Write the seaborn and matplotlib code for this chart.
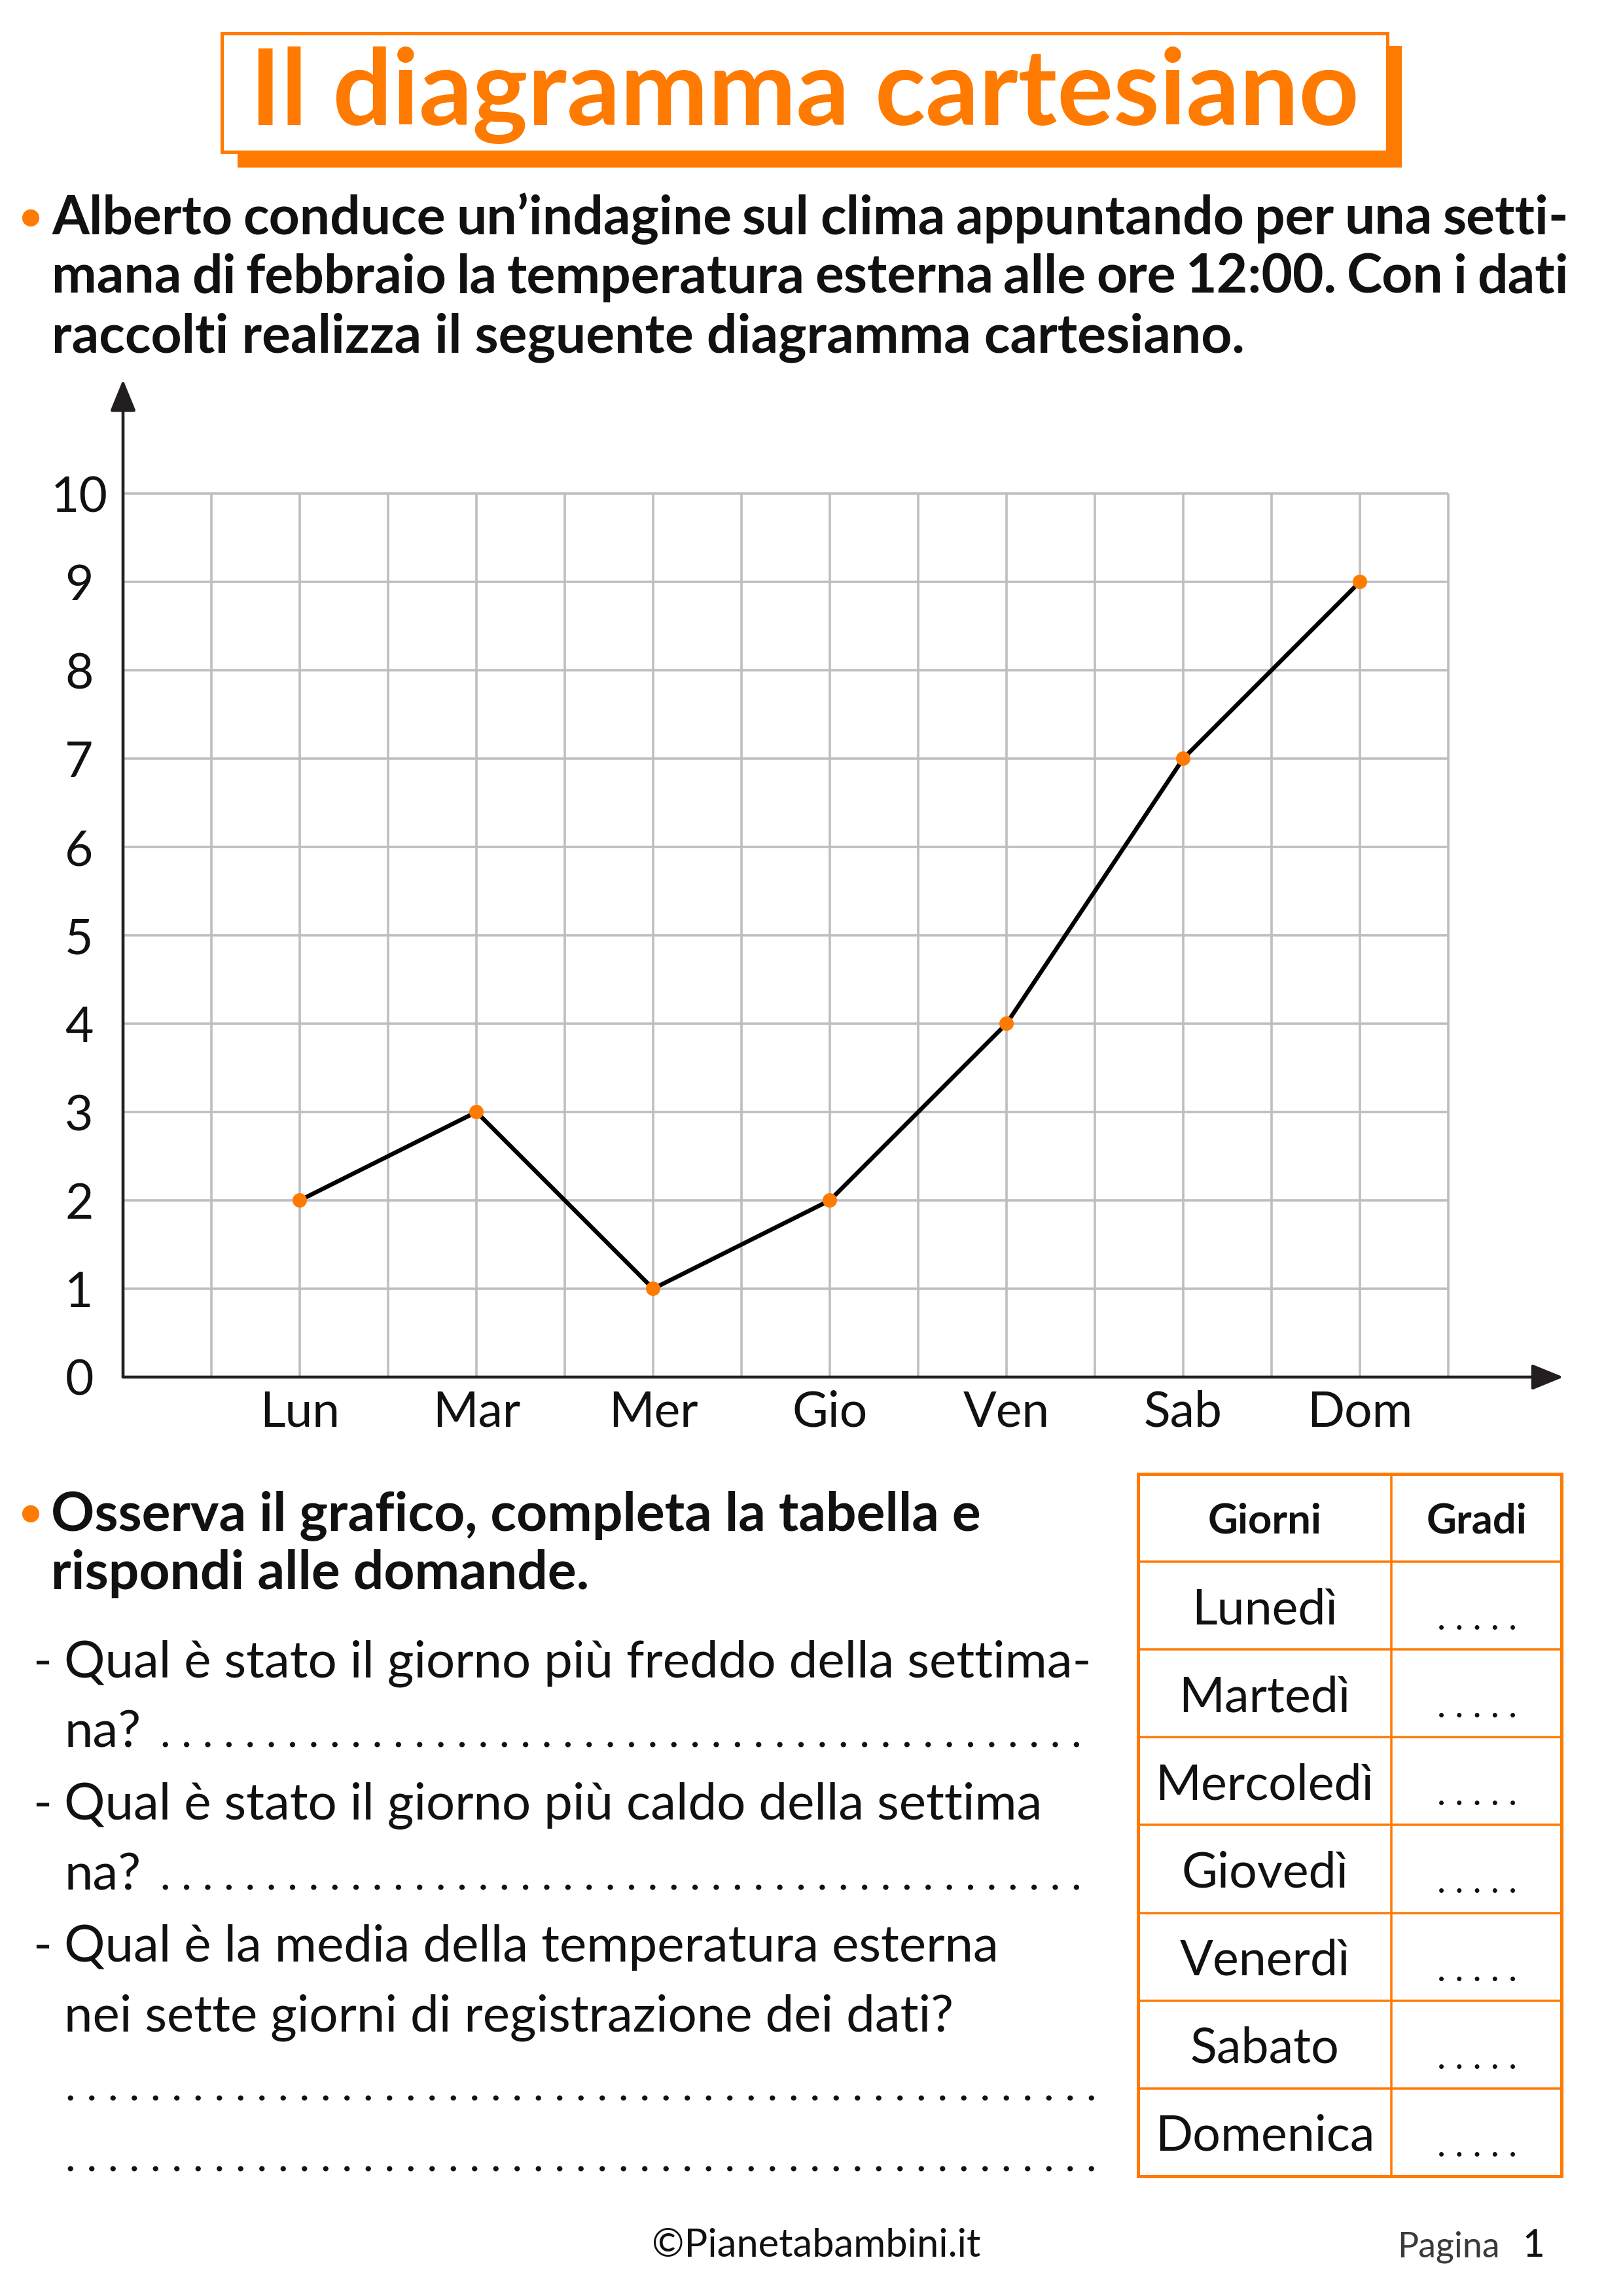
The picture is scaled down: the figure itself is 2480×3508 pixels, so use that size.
import matplotlib
matplotlib.use("Agg")
import matplotlib.pyplot as plt
from matplotlib.patches import Rectangle, Circle
import numpy as np
import pandas as pd
import seaborn as sns

# ------------------------------------------------------------------ data
DAYS = ["Lun", "Mar", "Mer", "Gio", "Ven", "Sab", "Dom"]
TEMPS = [2, 3, 1, 2, 4, 7, 9]
Y_TICKS = [0, 1, 2, 3, 4, 5, 6, 7, 8, 9, 10]

TITLE = "Il diagramma cartesiano"
INTRO_LINES = [
    "Alberto conduce un’indagine sul clima appuntando per una setti-",
    "mana di febbraio la temperatura esterna alle ore 12:00. Con i dati",
    "raccolti realizza il seguente diagramma cartesiano.",
]
TASK_LINES = [
    "Osserva il grafico, completa la tabella e",
    "rispondi alle domande.",
]
QUESTION_LINES = [
    "Qual è stato il giorno più freddo della settima-",
    "na?",
    "Qual è stato il giorno più caldo della settima",
    "na?",
    "Qual è la media della temperatura esterna",
    "nei sette giorni di registrazione dei dati?",
    "",
    "",
]
QUESTION_DASH = [True, False, True, False, True, False, False, False]
TABLE_HEADER = ["Giorni", "Gradi"]
TABLE_DAYS = ["Lunedì", "Martedì", "Mercoledì", "Giovedì", "Venerdì", "Sabato", "Domenica"]
TABLE_BLANK = ". . . . ."
FOOTER_SITE = "©Pianetabambini.it"
FOOTER_PAGE = ["Pagina", "1"]

# ------------------------------------------------------------------ style
ORANGE = "#FF7A00"
GRID = "#BEBEC2"
AXIS = "#231F20"
INK = "#111111"
W, H = 2480, 3508
DPI = 300
PX = 72.0 / DPI  # points per pixel

sns.set_theme(style="white")
plt.rcParams["font.family"] = ["Lato", "DejaVu Sans"]

fig = plt.figure(figsize=(W / DPI, H / DPI), dpi=DPI)
fig.patch.set_facecolor("white")
R = fig.canvas.get_renderer()

pg = fig.add_axes([0, 0, 1, 1])
pg.set_xlim(0, W)
pg.set_ylim(H, 0)
pg.axis("off")


def text_w(s, size, weight="normal"):
    t = pg.text(0, 0, s, fontsize=size, fontweight=weight)
    w = t.get_window_extent(renderer=R).width
    t.remove()
    return w


def fit(s, target, weight="normal", base=20.0):
    return base * target / text_w(s, base, weight)


def put(x, y, s, size, weight="normal", ha="left", color=INK, va="baseline"):
    return pg.text(x, y, s, fontsize=size, fontweight=weight, ha=ha, va=va, color=color)


def justified(s, x0, x1, y, size, weight):
    words = s.split(" ")
    widths = [text_w(w, size, weight) for w in words]
    gap = (x1 - x0 - sum(widths)) / (len(words) - 1)
    x = x0
    for w, wd in zip(words, widths):
        put(x, y, w, size, weight)
        x += wd + gap


# ------------------------------------------------------------------ title
pg.add_patch(Rectangle((363, 70), 2142 - 363, 256 - 70, facecolor=ORANGE, edgecolor="none", zorder=1))
pg.add_patch(Rectangle((339, 51), 2120 - 339, 232 - 51, facecolor="white", edgecolor=ORANGE,
                       lw=5 * PX, zorder=2))
ts = fit(TITLE, 1695, "bold")
t = put(1229, 191, TITLE, ts, "bold", ha="center", color=ORANGE)
t.set_zorder(3)

# ------------------------------------------------------------------ intro paragraph
ps = fit(INTRO_LINES[2], 1821, "bold")
pg.add_patch(Circle((47, 333), 11, color=ORANGE))
intro_base = [358, 448, 538]
justified(INTRO_LINES[0], 79, 2397, intro_base[0], ps, "bold")
justified(INTRO_LINES[1], 79, 2397, intro_base[1], ps, "bold")
put(79, intro_base[2], INTRO_LINES[2], ps, "bold")

# ------------------------------------------------------------------ chart
AX_X0, X_PER_DAY, X_TIP = 188, 270, 2389
AX_Y0, Y_PER_DEG, Y_TIP = 2104, 135, 580
ax = fig.add_axes([AX_X0 / W, 1 - AX_Y0 / H, (X_TIP - AX_X0) / W, (AX_Y0 - Y_TIP) / H])
ax.set_facecolor("none")

df = pd.DataFrame({"pos": np.arange(len(DAYS)), "temp": TEMPS})
x_left = -1
x_right = len(DAYS) - 0.5
y_top = max(Y_TICKS)

ax.hlines(Y_TICKS[1:], x_left, x_right, color=GRID, lw=3.6 * PX, zorder=1)
ax.vlines(np.arange(x_left + 0.5, x_right + 0.01, 0.5), 0, y_top, color=GRID, lw=3.6 * PX, zorder=1)

sns.lineplot(data=df, x="pos", y="temp", color="black", lw=6.5 * PX, ax=ax, zorder=3)
sns.scatterplot(data=df, x="pos", y="temp", color=ORANGE, s=(22 * PX) ** 2, edgecolor="none",
                ax=ax, zorder=4)

ax.set_xlim(x_left, x_left + (X_TIP - AX_X0) / X_PER_DAY)
ax.set_ylim(0, (AX_Y0 - Y_TIP) / Y_PER_DEG)
for sp in ax.spines.values():
    sp.set_visible(False)
ax.set_xlabel("")
ax.set_ylabel("")
ax.grid(False)

arrow = dict(arrowstyle="-|>,head_length=0.49,head_width=0.2", color=AXIS, lw=4.6 * PX,
             shrinkA=0, shrinkB=0, mutation_scale=20)
ax.annotate("", xy=(ax.get_xlim()[1], 0), xytext=(x_left, 0), arrowprops=arrow,
            annotation_clip=False, zorder=5)
ax.annotate("", xy=(x_left, ax.get_ylim()[1]), xytext=(x_left, 0), arrowprops=arrow,
            annotation_clip=False, zorder=5)

ax.set_xticks(df["pos"])
ax.set_xticklabels(DAYS)
ax.set_yticks(Y_TICKS)
ax.set_yticklabels([str(v) for v in Y_TICKS])
ax.tick_params(axis="both", length=0, labelsize=18, labelcolor=INK)
ax.tick_params(axis="y", pad=67 * PX)
ax.tick_params(axis="x", pad=47 * PX)
for lab in ax.get_yticklabels():
    lab.set_horizontalalignment("center")
    lab.set_verticalalignment("center_baseline")
for lab in ax.get_xticklabels():
    lab.set_verticalalignment("center_baseline")

# ------------------------------------------------------------------ task paragraph
pg.add_patch(Circle((47, 2313), 11, color=ORANGE))
put(78, 2338, TASK_LINES[0], ps, "bold")
put(78, 2428, TASK_LINES[1], ps, "bold")

# ------------------------------------------------------------------ questions
qs = fit(QUESTION_LINES[5], 1364)
q_base = [2563, 2670, 2780, 2887, 2997, 3104, 3210, 3317]
for line, dash, yb in zip(QUESTION_LINES, QUESTION_DASH, q_base):
    if dash:
        put(50, yb, "-", qs)
    if line:
        put(98, yb, line, qs)
    if line == "na?":
        dots = " ".join(["."] * 44)
        put(245, yb, dots, fit(dots, 1652 - 245 + 6))
    elif line == "":
        dots = " ".join(["."] * 49)
        put(100, yb, dots, fit(dots, 1674 - 100 + 6))

# ------------------------------------------------------------------ table
TX0, TXM, TX1 = 1739, 2126, 2386
TY0, ROW_H = 2252, 134.1
n_rows = len(TABLE_DAYS) + 1
row_y = [TY0 + i * ROW_H for i in range(n_rows + 1)]
for i, yy in enumerate(row_y):
    outer = i in (0, n_rows)
    pg.plot([TX0, TX1], [yy, yy], color=ORANGE, lw=(5 if outer else 3.5) * PX, solid_capstyle="projecting")
for xx, outer in [(TX0, True), (TXM, False), (TX1, True)]:
    pg.plot([xx, xx], [row_y[0], row_y[-1]], color=ORANGE, lw=(5 if outer else 3.5) * PX,
            solid_capstyle="projecting")

hs = fit(TABLE_HEADER[0], 174, "bold")
cy = (row_y[0] + row_y[1]) / 2
put((TX0 + TXM) / 2, cy, TABLE_HEADER[0], hs, "bold", ha="center", va="center_baseline")
put((TXM + TX1) / 2, cy, TABLE_HEADER[1], hs, "bold", ha="center", va="center_baseline")
ds = fit("Mercoledì", 334)
bs = fit(TABLE_BLANK, 122)
for i, name in enumerate(TABLE_DAYS):
    cy = (row_y[i + 1] + row_y[i + 2]) / 2
    put((TX0 + TXM) / 2, cy, name, ds, ha="center", va="center_baseline")
    put(2257, row_y[i + 2] - 30, TABLE_BLANK, bs, ha="center")

# ------------------------------------------------------------------ footer
fs = fit(FOOTER_SITE, 502)
put(1247, 3448, FOOTER_SITE, fs, ha="center")
gs = fit(FOOTER_PAGE[0], 157)
put(2135, 3448, FOOTER_PAGE[0], gs, color="#3a3a3a")
put(2326, 3448, FOOTER_PAGE[1], 14, "medium")

fig.savefig("out.png", dpi=DPI, facecolor="white")
